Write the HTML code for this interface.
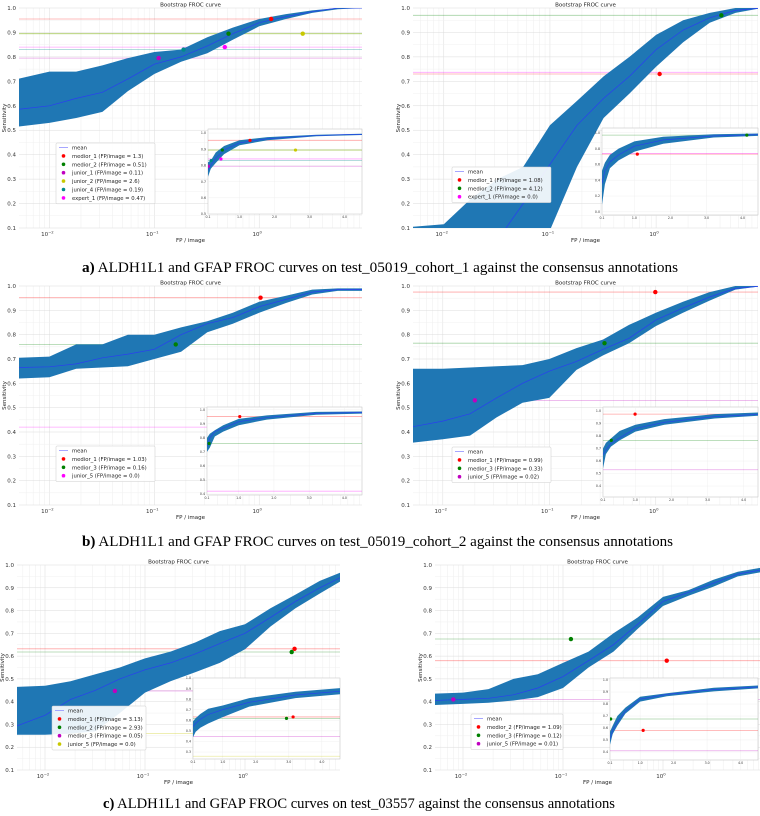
<!DOCTYPE html>
<html><head><meta charset="utf-8"><style>
html,body{margin:0;padding:0;background:#fff;}
svg{display:block;}
text{font-family:"DejaVu Sans","Liberation Sans",sans-serif;}
.cap{font-family:"Liberation Serif",serif;font-size:15px;fill:#000;}
</style></head><body>
<svg id="fig" width="760" height="816" viewBox="0 0 760 816" xmlns="http://www.w3.org/2000/svg">
<text class="cap" x="82" y="272" textLength="596" lengthAdjust="spacingAndGlyphs"><tspan font-weight="bold">a)</tspan> ALDH1L1 and GFAP FROC curves on test_05019_cohort_1 against the consensus annotations</text>
<text class="cap" x="82" y="546" textLength="591" lengthAdjust="spacingAndGlyphs"><tspan font-weight="bold">b)</tspan> ALDH1L1 and GFAP FROC curves on test_05019_cohort_2 against the consensus annotations</text>
<text class="cap" x="103" y="808" textLength="512" lengthAdjust="spacingAndGlyphs"><tspan font-weight="bold">c)</tspan> ALDH1L1 and GFAP FROC curves on test_03557 against the consensus annotations</text>
</svg>
<script>
// shared FP sample positions (FP / image)
const fpSamples = [0.005,0.01,0.018,0.032,0.056,0.1,0.18,0.32,0.56,1,1.8,3.2,5.6,10];
const yTickLabels = ["0.1","0.2","0.3","0.4","0.5","0.6","0.7","0.8","0.9","1.0"];
const xTickLabels = ["-2","-1","0"];
const insetXTicks = ["0.1","1.0","2.0","3.0","4.0"];

// panel a-left
const a1Mean = [0.585,0.60,0.63,0.655,0.71,0.77,0.80,0.845,0.895,0.94,0.965,0.985,1.0,1.0];
const a1Lo   = [0.515,0.53,0.55,0.575,0.66,0.73,0.78,0.815,0.87,0.925,0.955,0.98,0.995,1.0];
const a1Hi   = [0.71,0.74,0.74,0.765,0.795,0.82,0.83,0.88,0.92,0.955,0.975,0.99,1.0,1.0];
const a1Readers = ["medior_1","medior_2","junior_1","junior_2","junior_4","expert_1"];
const a1ReaderFP = [1.3,0.51,0.11,2.6,0.19,0.47];
const a1ReaderSens = [0.955,0.895,0.795,0.895,0.83,0.84];
// panel a-right
const a2Mean = [0.0,0.0,0.0,0.05,0.2,0.36,0.52,0.63,0.72,0.83,0.91,0.96,0.99,1.0];
const a2Lo   = [0.0,0.0,0.0,0.0,0.0,0.09,0.35,0.55,0.65,0.76,0.86,0.94,0.98,1.0];
const a2Hi   = [0.105,0.115,0.22,0.3,0.35,0.52,0.62,0.72,0.80,0.89,0.95,0.98,1.0,1.0];
const a2Readers = ["medior_1","medior_2","expert_1"];
const a2ReaderFP = [1.08,4.12,0.0];
const a2ReaderSens = [0.73,0.97,0.737];
// panel b-left
const b1Mean = [0.665,0.668,0.68,0.705,0.72,0.74,0.80,0.845,0.87,0.915,0.945,0.975,0.985,0.985];
const b1Lo   = [0.62,0.625,0.66,0.665,0.67,0.70,0.73,0.81,0.845,0.89,0.93,0.965,0.98,0.98];
const b1Hi   = [0.705,0.71,0.76,0.76,0.80,0.80,0.83,0.855,0.89,0.935,0.96,0.985,0.99,0.99];
const b1Readers = ["medior_1","medior_3","junior_5"];
const b1ReaderFP = [1.03,0.16,0.0];
const b1ReaderSens = [0.952,0.76,0.42];
// panel b-right
const b2Mean = [0.42,0.445,0.475,0.54,0.60,0.65,0.69,0.74,0.785,0.86,0.91,0.955,0.99,1.0];
const b2Lo   = [0.355,0.37,0.385,0.46,0.52,0.54,0.655,0.715,0.765,0.835,0.89,0.94,0.985,1.0];
const b2Hi   = [0.66,0.66,0.665,0.67,0.675,0.70,0.745,0.78,0.84,0.89,0.935,0.975,1.0,1.0];
const b2Readers = ["medior_1","medior_3","junior_5"];
const b2ReaderFP = [0.99,0.33,0.02];
const b2ReaderSens = [0.975,0.765,0.53];
// panel c-left
const c1Mean = [0.29,0.34,0.41,0.45,0.50,0.54,0.57,0.61,0.655,0.70,0.77,0.84,0.90,0.955];
const c1Lo   = [0.255,0.255,0.26,0.27,0.35,0.44,0.49,0.53,0.57,0.63,0.73,0.81,0.875,0.94];
const c1Hi   = [0.465,0.47,0.49,0.52,0.55,0.59,0.62,0.66,0.71,0.74,0.81,0.87,0.93,0.975];
const c1Readers = ["medior_1","medior_2","medior_3","junior_5"];
const c1ReaderFP = [3.13,2.93,0.05,0.0];
const c1ReaderSens = [0.632,0.618,0.447,0.26];
// panel c-right
const c2Mean = [0.405,0.41,0.415,0.43,0.46,0.51,0.58,0.65,0.74,0.84,0.88,0.92,0.96,0.98];
const c2Lo   = [0.385,0.39,0.395,0.405,0.42,0.46,0.55,0.62,0.72,0.82,0.865,0.905,0.95,0.97];
const c2Hi   = [0.435,0.44,0.455,0.50,0.52,0.57,0.62,0.70,0.77,0.86,0.89,0.935,0.97,0.99];
const c2Readers = ["medior_2","medior_3","junior_5"];
const c2ReaderFP = [1.09,0.12,0.008];
const c2ReaderSens = [0.58,0.675,0.41];
const c2ReaderLabelFP = ["1.09","0.12","0.01"];

const NS="http://www.w3.org/2000/svg";
const svg=document.getElementById('fig');
function mk(tag,attrs,parent){const e=document.createElementNS(NS,tag);for(const k in attrs)e.setAttribute(k,attrs[k]);(parent||svg).appendChild(e);return e;}
let clipId=0;

const panels=[
 {id:'a-left',mean:a1Mean,lo:a1Lo,hi:a1Hi,names:a1Readers,fps:a1ReaderFP,sens:a1ReaderSens,
  colors:['#ff0000','#008000','#c000c0','#c8c800','#008b8b','#ff00ff'],
  x0:19,x1:362,yTop:8,yBot:228,L0:-2.29,L1:0.98,
  inset:{x0:208,x1:362,y0:129,y1:214,xmax:4.5,ymin:0.5,ymax:1.025,yt:[0.5,0.6,0.7,0.8,0.9,1.0]},
  legend:{x:56,y:143,w:99}},
 {id:'a-right',mean:a2Mean,lo:a2Lo,hi:a2Hi,names:a2Readers,fps:a2ReaderFP,sens:a2ReaderSens,
  colors:['#ff0000','#008000','#ff00ff'],
  x0:413,x1:758,yTop:8,yBot:228,L0:-2.29,L1:0.96,
  inset:{x0:602,x1:758,y0:128,y1:215,xmax:4.43,ymin:-0.04,ymax:1.06,yt:[0,0.2,0.4,0.6,0.8,1.0]},
  legend:{x:452,y:167,w:99}},
 {id:'b-left',mean:b1Mean,lo:b1Lo,hi:b1Hi,names:b1Readers,fps:b1ReaderFP,sens:b1ReaderSens,
  colors:['#ff0000','#008000','#ff00ff'],
  x0:19,x1:362,yTop:286,yBot:505,L0:-2.29,L1:0.98,
  inset:{x0:207,x1:362,y0:407,y1:495,xmax:4.5,ymin:0.393,ymax:1.02,yt:[0.4,0.5,0.6,0.7,0.8,0.9,1.0]},
  legend:{x:56,y:446,w:99}},
 {id:'b-right',mean:b2Mean,lo:b2Lo,hi:b2Hi,names:b2Readers,fps:b2ReaderFP,sens:b2ReaderSens,
  colors:['#ff0000','#008000','#c000c0'],
  x0:413,x1:758,yTop:286,yBot:505,L0:-2.28,L1:0.96,
  inset:{x0:603,x1:758,y0:407,y1:497,xmax:4.4,ymin:0.312,ymax:1.032,yt:[0.4,0.5,0.6,0.7,0.8,0.9,1.0]},
  legend:{x:452,y:447,w:99}},
 {id:'c-left',mean:c1Mean,lo:c1Lo,hi:c1Hi,names:c1Readers,fps:c1ReaderFP,sens:c1ReaderSens,
  colors:['#ff0000','#008000','#c000c0','#c8c800'],
  x0:17,x1:340,yTop:565,yBot:770,L0:-2.28,L1:0.95,
  inset:{x0:193,x1:340,y0:678,y1:759,xmax:4.55,ymin:0.234,ymax:1.0,yt:[0.3,0.4,0.5,0.6,0.7,0.8,0.9,1.0]},
  legend:{x:52,y:706,w:94}},
 {id:'c-right',mean:c2Mean,lo:c2Lo,hi:c2Hi,names:c2Readers,fps:c2ReaderFP,sens:c2ReaderSens,labels:c2ReaderLabelFP,
  colors:['#ff0000','#008000','#c000c0'],
  x0:435,x1:760,yTop:565,yBot:770,L0:-2.28,L1:0.97,
  inset:{x0:610,x1:758,y0:678,y1:760,xmax:4.52,ymin:0.333,ymax:1.017,yt:[0.4,0.5,0.6,0.7,0.8,0.9,1.0]},
  legend:{x:471,y:714,w:92}}
];

function drawPanel(p){
 const g=mk('g',{});
 
 
 const X=fp=>p.x0+(Math.log10(fp)-p.L0)/(p.L1-p.L0)*(p.x1-p.x0);
 const Y=s=>p.yBot-(s-0.1)/0.9*(p.yBot-p.yTop);
 // grid
 const grid=mk('g',{},g);
 
 
 for(let e=-3;e<=1;e++)for(let k=1;k<10;k++){const v=k*Math.pow(10,e);const x=X(v);if(x<p.x0||x>p.x1)continue;
  mk('line',{x1:x,x2:x,y1:p.yTop,y2:p.yBot,stroke:k==1?'#dcdcdc':'#eeeeee','stroke-width':0.5},grid);}
 for(let i=0;i<=18;i++){const s=0.1+i*0.05;const y=Y(s);
  mk('line',{x1:p.x0,x2:p.x1,y1:y,y2:y,stroke:i%2==0?'#dcdcdc':'#f0f0f0','stroke-width':0.5},grid);}
 // clip
 const cid='clip'+(clipId++);
 const cp=mk('clipPath',{id:cid},g);mk('rect',{x:p.x0,y:p.yTop,width:p.x1-p.x0,height:p.yBot-p.yTop},cp);
 const cg=mk('g',{'clip-path':'url(#'+cid+')'},g);
 // hlines
 p.names.forEach((n,i)=>{const l=mk('line',{x1:p.x0,x2:p.x1,y1:Y(p.sens[i]),y2:Y(p.sens[i]),stroke:p.colors[i],'stroke-opacity':0.35,'stroke-width':0.8},cg);
  
  });
 // band
 let d='';fpSamples.forEach((f,i)=>{d+=(i?'L':'M')+X(f).toFixed(1)+','+Y(p.hi[i]).toFixed(1);});
 for(let i=fpSamples.length-1;i>=0;i--)d+='L'+X(fpSamples[i]).toFixed(1)+','+Y(p.lo[i]).toFixed(1);
 const band=mk('path',{d:d+'Z',fill:'#1f77b4'},cg);
 
 
 let dm='';fpSamples.forEach((f,i)=>{dm+=(i?'L':'M')+X(f).toFixed(1)+','+Y(p.mean[i]).toFixed(1);});
 const ml=mk('path',{d:dm,fill:'none',stroke:'#2a3ff0','stroke-width':0.7},cg);
 
 
 p.names.forEach((n,i)=>{if(p.fps[i]<=0)return;const c=mk('circle',{cx:X(p.fps[i]),cy:Y(p.sens[i]),r:2.2,fill:p.colors[i]},cg);
  
  });
 // axes ticks
 yTickLabels.forEach(t=>{const y=Y(parseFloat(t));const tx=mk('text',{x:p.x0-3,y:y+2,'font-size':5.5,'text-anchor':'end',fill:'#333'},g);tx.textContent=t;
  
  });
 xTickLabels.forEach(t=>{const x=X(Math.pow(10,parseInt(t)));const tx=mk('text',{x:x-2,y:p.yBot+8,'font-size':5.5,'text-anchor':'middle',fill:'#333'},g);
  tx.textContent='10';const sp=mk('tspan',{dy:-2.5,'font-size':3.8},tx);sp.textContent=t=='0'?'0':'\u2212'+t.slice(1);
  
  });
 const tt=mk('text',{x:(p.x0+p.x1)/2,y:p.yTop-1.5,'font-size':5.5,'text-anchor':'middle',fill:'#222'},g);tt.textContent='Bootstrap FROC curve';
 
 
 const xl=mk('text',{x:(p.x0+p.x1)/2,y:p.yBot+14,'font-size':5.5,'text-anchor':'middle',fill:'#222'},g);xl.textContent='FP / image';
 
 
 const ym=(p.yTop+p.yBot)/2;const yl=mk('text',{x:p.x0-13,y:ym,'font-size':5.5,'text-anchor':'middle',fill:'#222',transform:`rotate(-90 ${p.x0-13} ${ym})`},g);yl.textContent='Sensitivity';
 
 
 // inset
 const q=p.inset;const ig=mk('g',{},g);
 
 
 const IX=v=>q.x0+(v-0.1)/(q.xmax-0.1)*(q.x1-q.x0);
 const IY=s=>q.y1-(s-q.ymin)/(q.ymax-q.ymin)*(q.y1-q.y0);
 mk('rect',{x:q.x0,y:q.y0,width:q.x1-q.x0,height:q.y1-q.y0,fill:'#fff',stroke:'#bbb','stroke-width':0.5},ig);
 const icid='clip'+(clipId++);const icp=mk('clipPath',{id:icid},ig);mk('rect',{x:q.x0,y:q.y0,width:q.x1-q.x0,height:q.y1-q.y0},icp);
 const icg=mk('g',{'clip-path':'url(#'+icid+')'},ig);
 insetXTicks.forEach(t=>{const x=IX(parseFloat(t));mk('line',{x1:x,x2:x,y1:q.y0,y2:q.y1,stroke:'#ececec','stroke-width':0.4},icg);
  const tx=mk('text',{x:x,y:q.y1+4,'font-size':3.2,'text-anchor':'middle',fill:'#333'},ig);tx.textContent=t;
  
  });
 q.yt.forEach(s=>{const y=IY(s);mk('line',{x1:q.x0,x2:q.x1,y1:y,y2:y,stroke:'#ececec','stroke-width':0.4},icg);
  const tx=mk('text',{x:q.x0-2,y:y+1.2,'font-size':3.2,'text-anchor':'end',fill:'#333'},ig);tx.textContent=s.toFixed(1);
  
  });
 p.names.forEach((n,i)=>{mk('line',{x1:q.x0,x2:q.x1,y1:IY(p.sens[i]),y2:IY(p.sens[i]),stroke:p.colors[i],'stroke-opacity':0.35,'stroke-width':0.8},icg);});
 const idx=[];fpSamples.forEach((f,i)=>{if(f>=0.1)idx.push(i);});
 let di='';idx.forEach((i,k)=>{di+=(k?'L':'M')+IX(fpSamples[i]).toFixed(1)+','+IY(p.hi[i]).toFixed(1);});
 for(let k=idx.length-1;k>=0;k--)di+='L'+IX(fpSamples[idx[k]]).toFixed(1)+','+IY(p.lo[idx[k]]).toFixed(1);
 mk('path',{d:di+'Z',fill:'#1f77b4'},icg);
 let dmi='';idx.forEach((i,k)=>{dmi+=(k?'L':'M')+IX(fpSamples[i]).toFixed(1)+','+IY(p.mean[i]).toFixed(1);});
 mk('path',{d:dmi,fill:'none',stroke:'#2a3ff0','stroke-width':0.6},icg);
 p.names.forEach((n,i)=>{if(p.fps[i]<=0)return;mk('circle',{cx:IX(p.fps[i]),cy:IY(p.sens[i]),r:1.6,fill:p.colors[i]},icg);});
 // legend
 const L=p.legend;const rows=p.names.length+1;const rh=8.4;
 const lg=mk('g',{},g);
 
 
 mk('rect',{x:L.x,y:L.y,width:L.w,height:rows*rh+2,fill:'#fff','fill-opacity':0.9,stroke:'#ccc','stroke-width':0.5,rx:1},lg);
 mk('line',{x1:L.x+3,x2:L.x+12,y1:L.y+4.5,y2:L.y+4.5,stroke:'#9090ff','stroke-width':0.8},lg);
 const mt=mk('text',{x:L.x+16,y:L.y+6.5,'font-size':5.3,fill:'#222'},lg);mt.textContent='mean';
 p.names.forEach((n,i)=>{const y=L.y+4.5+(i+1)*rh;
  mk('circle',{cx:L.x+7.5,cy:y,r:1.8,fill:p.colors[i]},lg);
  const lbl=p.labels?p.labels[i]:String(p.fps[i]===0?'0.0':p.fps[i]);
  const t=mk('text',{x:L.x+16,y:y+2,'font-size':5.3,fill:'#222'},lg);t.textContent=n+' (FP/image = '+lbl+')';
  
  });
}
panels.forEach(drawPanel);
</script>
</body></html>
